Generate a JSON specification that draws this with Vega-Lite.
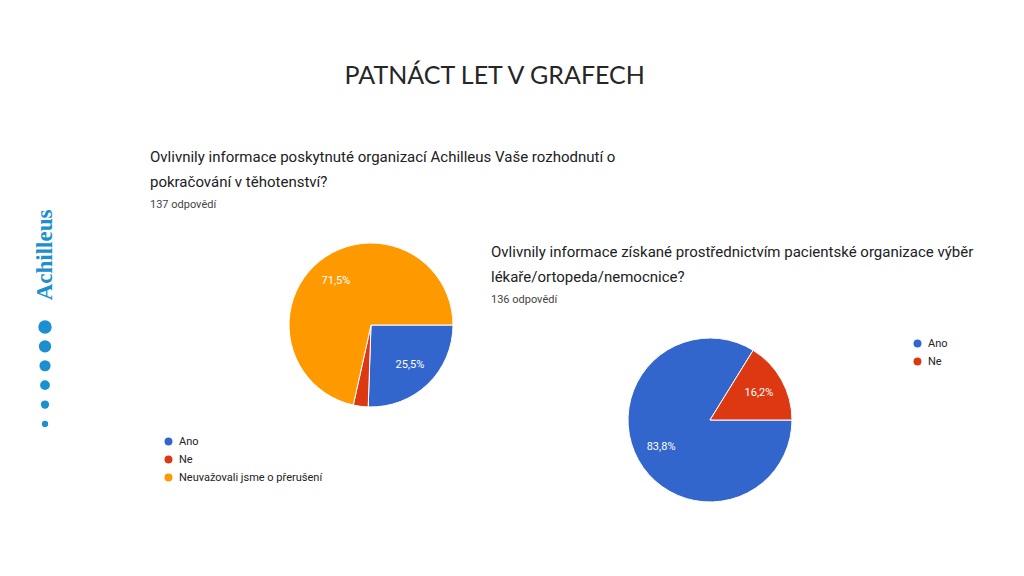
{
  "$schema": "https://vega.github.io/schema/vega-lite/v6.json",
  "background": "white",
  "padding": {"left": 0, "top": 64, "right": 10, "bottom": 5},
  "title": {"text": "PATNÁCT LET V GRAFECH", "font": "Lato", "fontSize": 25, "fontWeight": "normal", "color": "#262626", "anchor": "middle", "offset": 61, "dx": 8},
  "config": {"view": {"stroke": null}, "font": "Roboto"},
  "bounds": "flush",
  "spacing": 223,
  "resolve": {"scale": {"color": "independent", "theta": "independent", "size": "independent", "y": "independent"}, "legend": {"color": "independent", "size": "independent"}},
  "hconcat": [
    {
      "width": 90, "height": 230,
      "layer": [
        {
          "data": {"values": [{"logo": "Achilleus"}]},
          "mark": {"type": "text", "angle": 270, "dx": 70, "font": "Liberation Serif", "fontWeight": "bold", "fontSize": 23, "color": "#1b8fd0"},
          "encoding": {"text": {"field": "logo", "type": "nominal"}}
        },
        {
          "data": {"values": [{"k": 1}, {"k": 2}, {"k": 3}, {"k": 4}, {"k": 5}, {"k": 6}]},
          "mark": {"type": "circle", "color": "#1b8fd0", "opacity": 1},
          "encoding": {
            "y": {"field": "k", "type": "quantitative", "axis": null, "scale": {"domain": [-5.03, 6.83], "reverse": true, "nice": false, "zero": false}},
            "size": {"field": "k", "type": "quantitative", "legend": null, "scale": {"domain": [1, 6], "range": [180, 40]}}
          }
        }
      ]
    },
    {
      "width": 116, "height": 230,
      "title": {
        "text": ["Ovlivnily informace poskytnuté organizací Achilleus Vaše rozhodnutí o", "pokračování v těhotenství?"],
        "subtitle": "137 odpovědí",
        "anchor": "start", "frame": "group", "dx": -163, "offset": 0,
        "font": "Roboto", "fontSize": 15, "fontWeight": "normal", "color": "#202124", "lineHeight": 25,
        "subtitleFont": "Roboto", "subtitleFontSize": 11, "subtitleColor": "#444444", "subtitlePadding": 9
      },
      "data": {"values": [
        {"odpoved": "Ano", "pocet": 35, "stitek": "25,5%"},
        {"odpoved": "Ne", "pocet": 4, "stitek": ""},
        {"odpoved": "Neuvažovali jsme o přerušení", "pocet": 98, "stitek": "71,5%"}
      ]},
      "encoding": {
        "theta": {"field": "pocet", "type": "quantitative", "stack": true, "scale": {"range": [1.5708, 7.854]}},
        "order": {"field": "odpoved", "type": "nominal", "sort": "ascending"}
      },
      "layer": [
        {
          "mark": {"type": "arc", "outerRadius": 82, "stroke": "white", "strokeWidth": 1},
          "encoding": {"color": {"field": "odpoved", "type": "nominal",
            "scale": {"domain": ["Ano", "Ne", "Neuvažovali jsme o přerušení"], "range": ["#3366cc", "#dc3912", "#ff9900"]},
            "legend": {"title": null, "orient": "none", "legendX": -150, "legendY": 226, "symbolType": "circle", "symbolSize": 90, "labelFont": "Roboto", "labelFontSize": 11, "labelColor": "#222222", "rowPadding": 1, "labelOffset": 5}}}
        },
        {
          "mark": {"type": "text", "radius": 56, "color": "white", "fontSize": 11, "font": "Roboto"},
          "encoding": {"text": {"field": "stitek", "type": "nominal"}, "detail": {"field": "odpoved", "type": "nominal"}}
        }
      ]
    },
    {
      "bounds": "flush",
      "spacing": 0,
      "resolve": {"scale": {"color": "independent", "theta": "independent"}, "legend": {"color": "independent"}},
      "vconcat": [
        {
          "width": 116, "height": 125,
          "data": {"values": []},
          "mark": {"type": "point", "opacity": 0}
        },
        {
          "width": 116, "height": 170,
          "title": {
            "text": ["Ovlivnily informace získané prostřednictvím pacientské organizace výběr", "lékaře/ortopeda/nemocnice?"],
            "subtitle": "136 odpovědí",
            "anchor": "start", "frame": "group", "dx": -161, "offset": 30,
            "font": "Roboto", "fontSize": 15, "fontWeight": "normal", "color": "#202124", "lineHeight": 25,
            "subtitleFont": "Roboto", "subtitleFontSize": 11, "subtitleColor": "#444444", "subtitlePadding": 9
          },
          "data": {"values": [
            {"odpoved": "Ano", "pocet": 114, "stitek": "83,8%"},
            {"odpoved": "Ne", "pocet": 22, "stitek": "16,2%"}
          ]},
          "encoding": {
            "theta": {"field": "pocet", "type": "quantitative", "stack": true, "scale": {"range": [1.5708, 7.854]}},
            "order": {"field": "odpoved", "type": "nominal", "sort": "ascending"}
          },
          "layer": [
            {
              "mark": {"type": "arc", "outerRadius": 82, "stroke": "white", "strokeWidth": 1},
              "encoding": {"color": {"field": "odpoved", "type": "nominal",
                "scale": {"domain": ["Ano", "Ne"], "range": ["#3366cc", "#dc3912"]},
                "legend": {"title": null, "orient": "none", "legendX": 260, "legendY": 3, "symbolType": "circle", "symbolSize": 90, "labelFont": "Roboto", "labelFontSize": 11, "labelColor": "#222222", "rowPadding": 1, "labelOffset": 5}}}
            },
            {
              "mark": {"type": "text", "radius": 56, "color": "white", "fontSize": 11, "font": "Roboto"},
              "encoding": {"text": {"field": "stitek", "type": "nominal"}, "detail": {"field": "odpoved", "type": "nominal"}}
            }
          ]
        }
      ]
    }
  ]
}
